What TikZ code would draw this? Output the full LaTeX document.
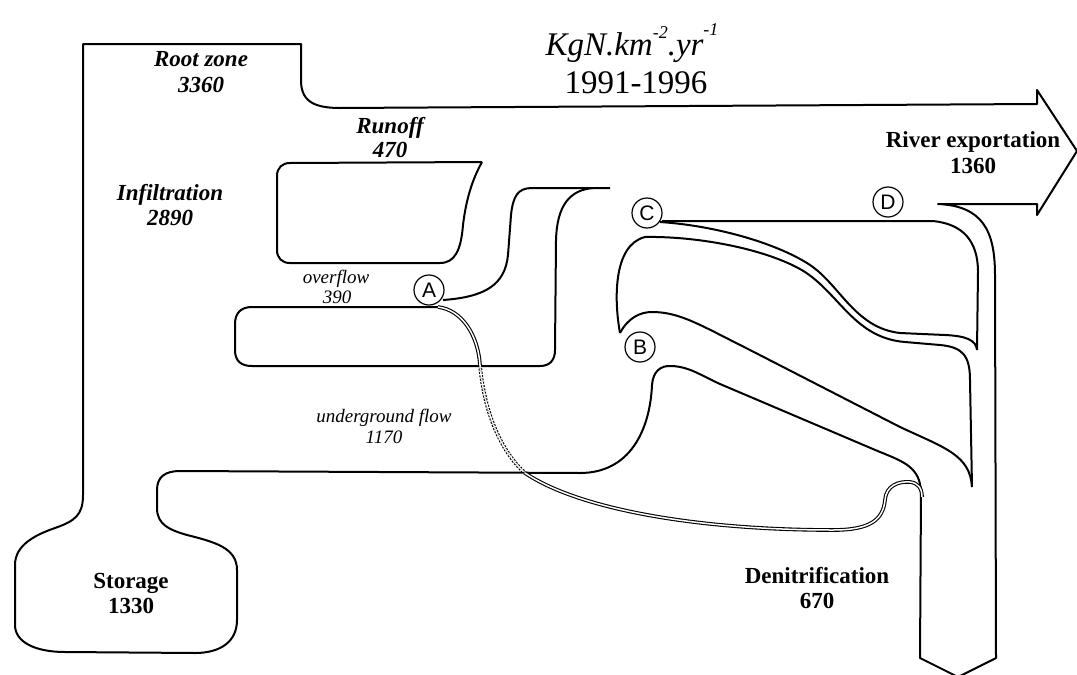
\documentclass[tikz,border=0pt]{standalone}
\usepackage{fontspec}
\setmainfont{Liberation Serif}
\newfontfamily\circfont{Liberation Sans}
\begin{document}
\begin{tikzpicture}[x=1pt,y=-1pt,line join=round,
  outl/.style={line width=2pt},
  bl/.style={inner sep=0pt, anchor=base, font=\fontsize{23}{25}\selectfont\bfseries},
  bil/.style={inner sep=0pt, anchor=base, font=\fontsize{23}{25}\selectfont\bfseries\itshape},
  sl/.style={inner sep=0pt, anchor=base, font=\fontsize{19}{21}\selectfont\itshape},
  ttl/.style={inner sep=0pt, anchor=base, font=\fontsize{33}{35}\selectfont},
  pt/.style={circle, draw, line width=1.2pt, minimum size=30pt, inner sep=0pt, fill=white, font=\circfont\fontsize{21}{21}\selectfont},
  dbl/.style={line width=1.1pt, double=white, double distance=1.5pt}]
\useasboundingbox (0,0) rectangle (1077,675);

% outer shape: root zone, river arrow, denitrification arrow, storage
\draw[outl] (83,44) -- (301,44) -- (301,80) .. controls (301,100) and (312,108) .. (340,108)
  -- (1037,104) -- (1037,90) -- (1077,151) -- (1037,215) -- (1037,204) -- (938,204)
  .. controls (982,206) and (995,230) .. (995,275) -- (996,658) -- (958,677) -- (920,658)
  -- (921,492) .. controls (920,468) and (905,462) .. (880,452) -- (720,384)
  .. controls (700,375) and (690,367) .. (672,366) .. controls (660,365) and (653,372) .. (652,385)
  .. controls (650,430) and (630,473) .. (580,473) -- (180,471)
  .. controls (165,471) and (157,477) .. (157,490) -- (157,508)
  .. controls (157,525) and (170,530) .. (187,535) .. controls (215,542) and (237,548) .. (237,570)
  -- (237,620) .. controls (237,642) and (220,653) .. (195,653) -- (65,652)
  .. controls (35,652) and (15,642) .. (15,625) -- (15,565)
  .. controls (15,545) and (35,535) .. (55,528) .. controls (75,521) and (83,515) .. (83,495) -- cycle;

% runoff box
\draw[outl] (482,162) -- (290,163) .. controls (282,163) and (277,168) .. (277,176) -- (277,250)
  .. controls (277,258) and (282,263) .. (290,263) -- (440,263)
  .. controls (455,263) and (461,250) .. (463,225) .. controls (466,200) and (472,180) .. (482,162);

% overflow box
\draw[outl] (440,307) -- (252,307) .. controls (241,307) and (235,313) .. (235,324) -- (235,350)
  .. controls (235,361) and (241,366) .. (252,366) -- (540,366)
  .. controls (550,366) and (555,360) .. (555,350) -- (556,240)
  .. controls (557,205) and (570,190) .. (593,188) -- (610,188);
\draw[outl] (443,300) .. controls (485,297) and (505,285) .. (508,255) -- (511,215)
  .. controls (513,196) and (518,188) .. (532,188) -- (593,188);

% underground double line
\draw[dbl] (438,307) .. controls (462,310) and (478,335) .. (480,365);
\draw[dbl, dash pattern=on 2pt off 1.4pt] (480,365) .. controls (485,420) and (505,455) .. (525,473);
\draw[dbl] (525,473) .. controls (580,510) and (700,530) .. (833,530)
  .. controls (870,530) and (883,520) .. (885,500) .. controls (886,486) and (898,481) .. (910,482)
  .. controls (918,483) and (922,488) .. (922,497);

% C band
\draw[outl] (662,221) -- (933,221) .. controls (962,224) and (978,240) .. (978,272) -- (977,350);
\draw[outl] (660,222) .. controls (720,226) and (780,245) .. (810,265)
  .. controls (840,285) and (855,328) .. (900,333) -- (945,335)
  .. controls (966,336) and (976,340) .. (977,350);
% B band
\draw[outl] (620,333) .. controls (614,300) and (613,245) .. (645,237)
  .. controls (700,236) and (770,250) .. (805,272)
  .. controls (840,295) and (855,338) .. (905,342) -- (940,345)
  .. controls (962,347) and (970,355) .. (970,380) -- (972,487);
\draw[outl] (620,333) .. controls (628,318) and (640,312) .. (652,312)
  .. controls (680,312) and (700,325) .. (750,350) -- (900,427)
  .. controls (945,448) and (970,455) .. (972,487);

% points
\node[pt] (A) at (429,290) {A};
\node[pt] (B) at (640,347) {B};
\node[pt] (C) at (647,213) {C};
\node[pt] (D) at (888,202) {D};

% labels
\node[bil] (rz1) at (201,66) {Root zone};
\node[bil] (rz2) at (201,92) {3360};
\node[bil] (in1) at (170,200) {Infiltration};
\node[bil] (in2) at (170,225) {2890};
\node[bil] (ro1) at (390,133) {Runoff};
\node[bil] (ro2) at (390,157) {470};
\node[sl] (ov1) at (336,283) {overflow};
\node[sl] (ov2) at (337,303) {390};
\node[sl] (ug1) at (384,422) {underground flow};
\node[sl] (ug2) at (384,443) {1170};
\node[bl] (st1) at (131,588) {Storage};
\node[bl] (st2) at (131,613) {1330};
\node[bl] (de1) at (817,583) {Denitrification};
\node[bl] (de2) at (817,608) {670};
\node[bl] (rv1) at (973,147) {River exportation};
\node[bl] (rv2) at (973,173) {1360};
\node[ttl] (t1) at (632,55) {\itshape KgN.km\raisebox{17pt}{\fontsize{18}{18}\selectfont -2}.yr\raisebox{20pt}{\fontsize{18}{18}\selectfont -1}};
\node[ttl] (t2) at (636,93) {1991-1996};
\end{tikzpicture}
\end{document}
